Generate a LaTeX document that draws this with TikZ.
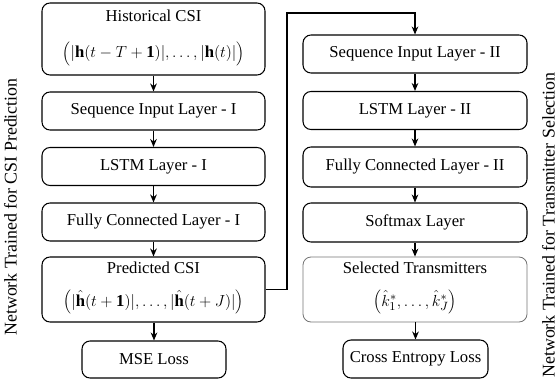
\documentclass[tikz,border=0pt]{standalone}
\usepackage{fontspec}
\setmainfont{Liberation Serif}
\usetikzlibrary{arrows.meta}
\tikzset{
  box/.style={draw, line width=0.8pt, rounded corners=6pt, inner sep=0pt},
  lbox/.style={box, minimum width=167.25pt, minimum height=28.5pt},
  rbox/.style={box, minimum width=168pt, minimum height=28.5pt},
  txt/.style={inner sep=0pt},
  conn/.style={line width=0.8pt, -{Stealth[length=6pt,width=5pt]}},
  side/.style={rotate=90, inner sep=0pt, font=\fontsize{13.4}{16}\selectfont},
}
\begin{document}
\begin{tikzpicture}[x=0.75pt, y=-0.75pt, font=\fontsize{12.5}{15}\selectfont]
\useasboundingbox (0,0) rectangle (556,381);
% left column
\node[lbox, minimum height=54pt] (hist) at (153.5,39) {};
\node[txt] (histT) at (153.5,16) {Historical CSI};
\node[txt] (histF) at (153.5,54) {$\Big(|\mathbf{h}(t-T+\mathbf{1})|,\ldots,|\mathbf{h}(t)|\Big)$};
\node[lbox] (seq1) at (153.5,111) {Sequence Input Layer - I};
\node[lbox] (lstm1) at (153.5,166.5) {LSTM Layer - I};
\node[lbox] (fc1) at (153.5,222) {Fully Connected Layer - I};
\node[lbox, minimum height=48.75pt] (pred) at (153.5,289.5) {};
\node[txt] (predT) at (153.5,268) {Predicted CSI};
\node[txt] (predF) at (153.5,302) {$\Big(|\hat{\mathbf{h}}(t+\mathbf{1})|,\ldots,|\hat{\mathbf{h}}(t+J)|\Big)$};
\node[box, minimum width=108pt, minimum height=27.75pt] (mse) at (154,359.5) {MSE Loss};
% right column
\node[rbox] (seq2) at (415,54) {Sequence Input Layer - II};
\node[rbox] (lstm2) at (415,110.5) {LSTM Layer - II};
\node[rbox, minimum height=30pt] (fc2) at (415,167) {Fully Connected Layer - II};
\node[rbox, minimum height=29.25pt] (soft) at (415,222.5) {Softmax Layer};
\node[rbox, minimum height=48.75pt, draw=black!55, line width=0.6pt] (sel) at (415,289.5) {};
\node[txt] (selT) at (415,268) {Selected Transmitters};
\node[txt] (selF) at (415,302) {$\Big(\hat{k}_1^*,\ldots,\hat{k}_J^*\Big)$};
\node[box, minimum width=108.75pt, minimum height=28.5pt] (ce) at (415.5,359) {Cross Entropy Loss};
% side labels
\node[side] (lside) at (10.5,207) {Network Trained for CSI Prediction};
\node[side] (rside) at (548.5,225) {Network Trained for Transmitter Selection};
% connectors
\draw[conn] (hist) -- (seq1);
\draw[conn] (seq1) -- (lstm1);
\draw[conn] (lstm1) -- (fc1);
\draw[conn] (fc1) -- (pred);
\draw[conn] (pred.south -| mse.north) -- (mse);
\coordinate (up) at (287,13);
\draw[conn] (pred.east) -| (up) -| (seq2.north);
\draw[conn] (seq2) -- (lstm2);
\draw[conn] (lstm2) -- (fc2);
\draw[conn] (fc2) -- (soft);
\draw[conn] (soft) -- (sel);
\draw[conn] (sel.south -| ce.north) -- (ce);
\end{tikzpicture}
\end{document}
